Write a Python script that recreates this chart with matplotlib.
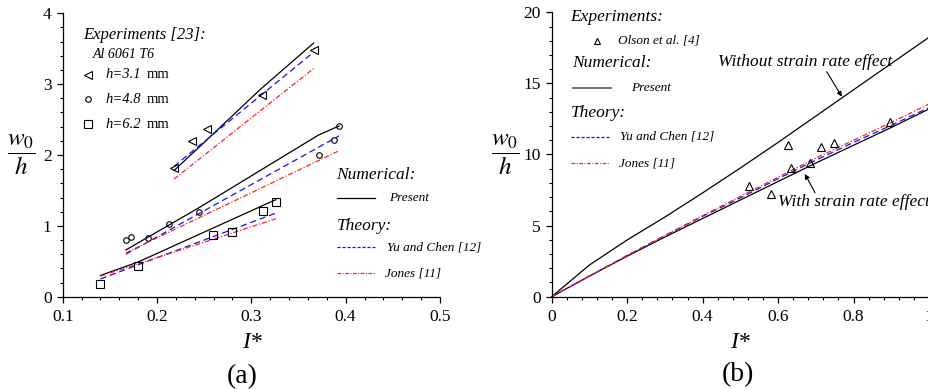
import matplotlib
matplotlib.use('Agg')
import matplotlib.pyplot as plt
from matplotlib.lines import Line2D
from matplotlib.ticker import MultipleLocator

# ======================
# DATA
# ======================

# (a) Experiments, Al 6061 T6
exp_31_x = [0.218, 0.237, 0.253, 0.311, 0.366]
exp_31_y = [1.81, 2.20, 2.36, 2.84, 3.48]
exp_48_x = [0.167, 0.172, 0.190, 0.213, 0.245, 0.372, 0.388, 0.393]
exp_48_y = [0.80, 0.84, 0.83, 1.02, 1.20, 2.00, 2.21, 2.41]
exp_62_x = [0.140, 0.180, 0.259, 0.280, 0.312, 0.326]
exp_62_y = [0.18, 0.44, 0.87, 0.91, 1.21, 1.33]

# (a) Numerical (present)
num_31_x = [0.218, 0.251, 0.309, 0.366]
num_31_y = [1.78, 2.19, 2.92, 3.58]
num_48_x = [0.167, 0.245, 0.371, 0.393]
num_48_y = [0.66, 1.26, 2.28, 2.41]
num_62_x = [0.140, 0.180, 0.326]
num_62_y = [0.30, 0.49, 1.37]

# (a) Theory: Yu and Chen [12]
yc_31_x = [0.218, 0.366]
yc_31_y = [1.84, 3.45]
yc_48_x = [0.167, 0.393]
yc_48_y = [0.60, 2.27]
yc_62_x = [0.140, 0.326]
yc_62_y = [0.25, 1.18]

# (a) Theory: Jones [11]
jo_31_x = [0.218, 0.366]
jo_31_y = [1.66, 3.22]
jo_48_x = [0.167, 0.393]
jo_48_y = [0.62, 2.06]
jo_62_x = [0.140, 0.326]
jo_62_y = [0.29, 1.10]

# (b) Experiments, Olson et al. [4]
olson_x = [0.523, 0.580, 0.627, 0.633, 0.685, 0.713, 0.749, 0.897]
olson_y = [7.78, 7.20, 10.67, 9.07, 9.38, 10.55, 10.83, 12.26]

# (b) curves
b_x = [0.0, 0.1, 0.2, 0.3, 0.4, 0.5, 0.6, 0.7, 0.8, 0.9, 1.0]
b_no_rate = [0.0, 2.23, 3.99, 5.6, 7.3, 9.05, 10.85, 12.7, 14.55, 16.4, 18.24]
b_rate = [0.0, 1.45, 2.85, 4.2, 5.5, 6.8, 8.1, 9.4, 10.65, 11.9, 13.2]
b_yu_chen = [0.0, 1.45, 2.9, 4.3, 5.65, 6.95, 8.3, 9.6, 10.85, 12.05, 13.3]
b_jones = [0.0, 1.45, 2.9, 4.3, 5.7, 7.05, 8.4, 9.75, 11.0, 12.25, 13.55]

# ======================
# STYLE
# ======================

plt.rcParams['font.family'] = ['Liberation Serif', 'DejaVu Serif']
plt.rcParams['mathtext.fontset'] = 'stix'
plt.rcParams['lines.linewidth'] = 0.9

BLUE = '#1010ff'
RED = '#ff2020'
DASH = (0, (5, 3))
DASH_KEY = (0, (2.5, 1.5))
DASHDOT = (0, (4, 1.5, 1, 1.5))
DASHDOT_KEY = (0, (3, 1.2, 0.8, 1.2))


def setup_axes(ax):
    ax.spines['top'].set_visible(False)
    ax.spines['right'].set_visible(False)
    ax.spines['left'].set_linewidth(0.9)
    ax.spines['bottom'].set_linewidth(0.9)
    ax.tick_params(which='major', direction='out', length=4, width=0.9,
                   labelsize=12.5, pad=4)
    ax.tick_params(which='minor', direction='out', length=2.5, width=0.8)
    ax.tick_params(axis='x', which='major', pad=5)


def key_line(ax, x0, x1, y, **kw):
    ax.add_line(Line2D([x0, x1], [y, y], transform=ax.transAxes,
                       clip_on=False, **kw))


fig = plt.figure(figsize=(9.29, 3.89), dpi=100)
ax1 = fig.add_axes([0.0675, 0.2373, 0.4061, 0.7285])
ax2 = fig.add_axes([0.5939, 0.2373, 0.4061, 0.7311])

# ======================
# PANEL (a)
# ======================

for x, y in [(num_31_x, num_31_y), (num_48_x, num_48_y), (num_62_x, num_62_y)]:
    ax1.plot(x, y, color='k', lw=0.9)
for x, y in [(yc_31_x, yc_31_y), (yc_48_x, yc_48_y), (yc_62_x, yc_62_y)]:
    ax1.plot(x, y, color=BLUE, lw=0.9, linestyle=DASH)
for x, y in [(jo_31_x, jo_31_y), (jo_48_x, jo_48_y), (jo_62_x, jo_62_y)]:
    ax1.plot(x, y, color=RED, lw=0.9, linestyle=DASHDOT)

mk = dict(linestyle='none', markerfacecolor='none', markeredgecolor='k',
          markeredgewidth=0.8, clip_on=False)
ax1.plot(exp_31_x, exp_31_y, marker='<', markersize=5.5, **mk)
ax1.plot(exp_48_x, exp_48_y, marker='o', markersize=4, **mk)
ax1.plot(exp_62_x, exp_62_y, marker='s', markersize=6, **mk)

ax1.set_xlim(0.1, 0.5)
ax1.set_ylim(0, 4)
ax1.set_xticks([0.1, 0.2, 0.3, 0.4, 0.5])
ax1.set_xticklabels(['0.1', '0.2', '0.3', '0.4', '0.5'])
ax1.xaxis.set_minor_locator(MultipleLocator(0.02))
ax1.set_yticks([0, 1, 2, 3, 4])
ax1.set_yticklabels(['0', '1', '2', '3', '4'])
ax1.yaxis.set_minor_locator(MultipleLocator(0.2))
setup_axes(ax1)

# legend block, experiments
ax1.text(0.0538, 0.9234, 'Experiments [23]:', style='italic', fontsize=12,
         ha='left', va='center', transform=ax1.transAxes)
ax1.text(0.0785, 0.8529, 'Al 6061 T6', style='italic', fontsize=10,
         ha='left', va='center', transform=ax1.transAxes)
for yy, m, ms, h in [(0.7823, '<', 5.5, '3.1'), (0.6965, 'o', 4, '4.8'),
                     (0.6083, 's', 6, '6.2')]:
    ax1.plot([0.0679], [yy], marker=m, markersize=ms, transform=ax1.transAxes, **mk)
    ax1.text(0.1121, yy, 'h=' + h, style='italic', fontsize=10.5,
             ha='left', va='center', transform=ax1.transAxes)
    ax1.text(0.2220, yy, 'mm', fontsize=10.5, ha='left', va='center',
             transform=ax1.transAxes)

# legend block, numerical and theory
ax1.text(0.7244, 0.4294, 'Numerical:', style='italic', fontsize=12.5,
         ha='left', va='center', transform=ax1.transAxes)
key_line(ax1, 0.7262, 0.8277, 0.3472, color='k', lw=0.9)
ax1.text(0.8656, 0.3472, 'Present', style='italic', fontsize=9.5,
         ha='left', va='center', transform=ax1.transAxes)
ax1.text(0.7278, 0.2505, 'Theory:', style='italic', fontsize=12.5,
         ha='left', va='center', transform=ax1.transAxes)
key_line(ax1, 0.7262, 0.8277, 0.1743, color=BLUE, lw=0.9, linestyle=DASH_KEY)
ax1.text(0.8603, 0.1743, 'Yu and Chen [12]', style='italic', fontsize=9.5,
         ha='left', va='center', transform=ax1.transAxes, clip_on=False)
key_line(ax1, 0.7262, 0.8277, 0.0826, color=RED, lw=0.9, linestyle=DASHDOT_KEY)
ax1.text(0.8542, 0.0826, 'Jones [11]', style='italic', fontsize=9.5,
         ha='left', va='center', transform=ax1.transAxes)

# ======================
# PANEL (b)
# ======================

ax2.plot(b_x, b_no_rate, color='k', lw=0.9, clip_on=False)
ax2.plot(b_x, b_rate, color='k', lw=0.9, clip_on=False)
ax2.plot(b_x, b_yu_chen, color=BLUE, lw=0.9, linestyle=DASH, clip_on=False)
ax2.plot(b_x, b_jones, color=RED, lw=0.9, linestyle=DASHDOT, clip_on=False)
ax2.plot(olson_x, olson_y, marker='^', markersize=5.5, **mk)

ax2.set_xlim(0, 1)
ax2.set_ylim(0, 20)
ax2.set_xticks([0, 0.2, 0.4, 0.6, 0.8, 1.0])
ax2.set_xticklabels(['0', '0.2', '0.4', '0.6', '0.8', '1'])
ax2.xaxis.set_minor_locator(MultipleLocator(0.04))
ax2.set_yticks([0, 5, 10, 15, 20])
ax2.set_yticklabels(['0', '5', '10', '15', '20'])
ax2.yaxis.set_minor_locator(MultipleLocator(1))
setup_axes(ax2)

ax2.text(0.0485, 0.9831, 'Experiments:', style='italic', fontsize=12.5,
         ha='left', va='center', transform=ax2.transAxes)
ax2.plot([0.1193], [0.9008], marker='^', markersize=5, transform=ax2.transAxes, **mk)
ax2.text(0.1765, 0.9008, 'Olson et al. [4]', style='italic', fontsize=9.5,
         ha='left', va='center', transform=ax2.transAxes)
ax2.text(0.053, 0.8212, 'Numerical:', style='italic', fontsize=12.5,
         ha='left', va='center', transform=ax2.transAxes)
key_line(ax2, 0.0572, 0.1564, 0.7333, color='#555555', lw=1.2)
ax2.text(0.2102, 0.7333, 'Present', style='italic', fontsize=9.5,
         ha='left', va='center', transform=ax2.transAxes)
ax2.text(0.0512, 0.6474, 'Theory:', style='italic', fontsize=12.5,
         ha='left', va='center', transform=ax2.transAxes)
key_line(ax2, 0.0512, 0.1519, 0.563, color=BLUE, lw=0.9, linestyle=DASH_KEY)
ax2.text(0.181, 0.563, 'Yu and Chen [12]', style='italic', fontsize=9.5,
         ha='left', va='center', transform=ax2.transAxes)
key_line(ax2, 0.0512, 0.1519, 0.4694, color=RED, lw=0.9, linestyle=DASHDOT_KEY)
ax2.text(0.1792, 0.4694, 'Jones [11]', style='italic', fontsize=9.5,
         ha='left', va='center', transform=ax2.transAxes)

arrow = dict(arrowstyle='-|>', color='k', lw=0.8, mutation_scale=7,
             shrinkA=0, shrinkB=0)
ax2.annotate('', xy=(0.769, 14.07), xytext=(0.729, 15.82), arrowprops=arrow)
ax2.text(0.4416, 16.53, 'Without strain rate effect', style='italic',
         fontsize=12.5, ha='left', va='center', clip_on=False)
ax2.annotate('', xy=(0.671, 8.63), xytext=(0.698, 7.31), arrowprops=arrow)
ax2.text(0.601, 6.68, 'With strain rate effect', style='italic',
         fontsize=12.5, ha='left', va='center', clip_on=False)

# ======================
# LABELS
# ======================

for xl, xc in [(0.0234, 0.2709), (0.5436, 0.7966)]:
    fig.text(xl, 0.6015, r'$\dfrac{w_0}{h}$', fontsize=18, ha='center', va='center')
    fig.text(xc, 0.1183, 'I*', style='italic', fontsize=17, ha='center', va='center')
fig.text(0.2605, 0.0308, '(a)', fontsize=20, ha='center', va='center')
fig.text(0.794, 0.036, '(b)', fontsize=20, ha='center', va='center')

fig.savefig('out.png', dpi=100)
